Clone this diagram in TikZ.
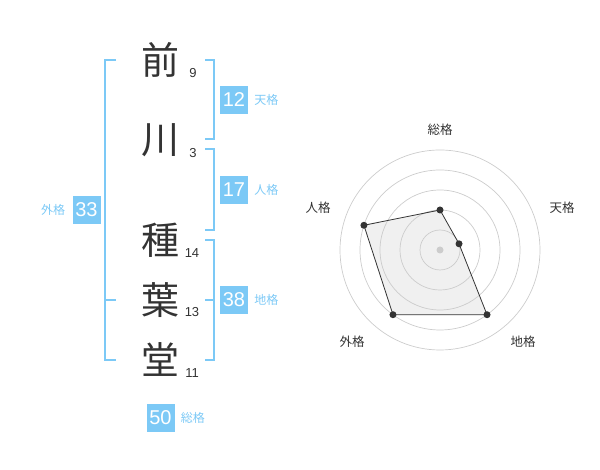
\documentclass[tikz,border=0pt]{standalone}
\usepackage{fontspec}
\setmainfont{Liberation Sans}
\newfontfamily\jp{Noto Sans CJK JP}
\usetikzlibrary{positioning}
\definecolor{kakublue}{HTML}{7CC9F6}
\definecolor{ink}{HTML}{333333}
\definecolor{ringgray}{HTML}{CCCCCC}
\definecolor{fillgray}{HTML}{F0F0F0}

\begin{document}
\begin{tikzpicture}[x=1pt, y=1pt,
    kanji/.style={text=ink, font=\jp\fontsize{38}{38}\selectfont, inner sep=0pt},
    strokes/.style={text=ink, font=\fontsize{13}{13}\selectfont, inner sep=0pt},
    kakubox/.style={fill=kakublue, text=white, font=\fontsize{20}{20}\selectfont, minimum width=28pt, minimum height=28pt, inner sep=0pt},
    kakulabel/.style={text=kakublue, font=\jp\fontsize{12}{12}\selectfont, inner sep=0pt},
    bracket/.style={draw=kakublue, line width=2pt},
    ring/.style={draw=ringgray, line width=0.7pt},
    radarlabel/.style={text=ink, font=\jp\fontsize{12.5}{12.5}\selectfont, inner sep=0pt},
    dot/.style={circle, fill=ink, inner sep=0pt, minimum size=7pt}]
    \useasboundingbox (0,0) rectangle (600,470);

    \node (mae) [kanji] at (160,410) {前};
    \node (kawa) [kanji] at (160,330) {川};
    \node (tane) [kanji] at (160,230) {種};
    \node (ha) [kanji] at (160,170) {葉};
    \node (dou) [kanji] at (160,110) {堂};

    \node (maen) [strokes] at (193,397) {9};
    \node (kawan) [strokes] at (193,317) {3};
    \node (tanen) [strokes] at (192,217) {14};
    \node (han) [strokes] at (192,158) {13};
    \node (doun) [strokes] at (192,97) {11};

    \draw[bracket] (116,410) -- (105,410) -- (105,110) -- (116,110);
    \draw[bracket] (105,170) -- (116,170);
    \draw[bracket] (205,410) -- (214,410) -- (214,331) -- (205,331);
    \draw[bracket] (205,321) -- (214,321) -- (214,240) -- (205,240);
    \draw[bracket] (205,230) -- (214,230) -- (214,110) -- (205,110);
    \draw[bracket] (205,170) -- (214,170);

    \node (gai) [kakubox] at (86.5,260) {33};
    \node [kakulabel, left=7pt of gai] {外格};
    \node (ten) [kakubox] at (234,370) {12};
    \node [kakulabel, right=6pt of ten] {天格};
    \node (jin) [kakubox] at (234,280) {17};
    \node [kakulabel, right=6pt of jin] {人格};
    \node (chi) [kakubox] at (234,170) {38};
    \node [kakulabel, right=6pt of chi] {地格};
    \node (sou) [kakubox] at (160.5,52) {50};
    \node [kakulabel, right=6pt of sou] {総格};

    \coordinate (radar) at (440,220);
    \begin{scope}[shift={(radar)}]
        \foreach \name/\ang/\val in {sou/90/40, ten/18/20, chi/-54/80, gai/-126/80, jin/162/80}
            \coordinate (p\name) at (\ang:\val);
        \fill[fillgray] (psou) -- (pten) -- (pchi) -- (pgai) -- (pjin) -- cycle;
        \foreach \r in {20,40,60,80,100}
            \draw[ring] (0,0) circle (\r pt);
        \draw[draw=ink, line width=0.8pt] (psou) -- (pten) -- (pchi) -- (pgai) -- (pjin) -- cycle;
        \foreach \name in {sou, ten, chi, gai, jin}
            \node[dot] at (p\name) {};
        \node[dot, fill=ringgray] at (0,0) {};

        \node (lsou) [radarlabel] at (0,120) {総格};
        \node (lten) [radarlabel] at (122,42) {天格};
        \node (lchi) [radarlabel] at (83,-92) {地格};
        \node (lgai) [radarlabel] at (-88,-92) {外格};
        \node (ljin) [radarlabel] at (-122,42) {人格};
    \end{scope}
\end{tikzpicture}
\end{document}
